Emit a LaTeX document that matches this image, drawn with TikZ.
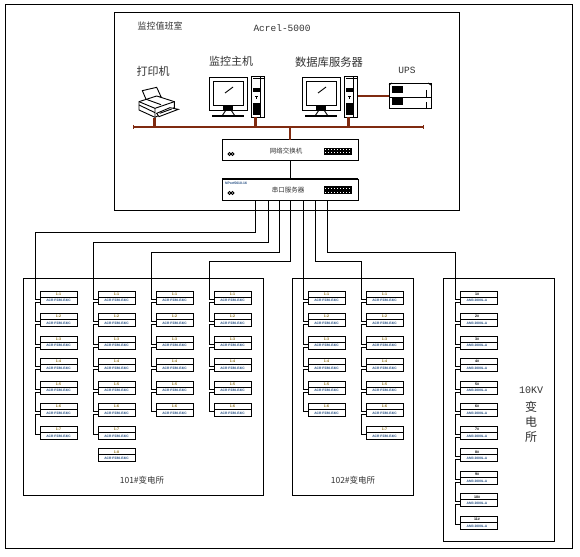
\documentclass[tikz,border=0pt]{standalone}
\usepackage{fontspec}
\setmainfont{Liberation Sans}
\newfontfamily\cjk{Noto Sans CJK SC}
\newfontfamily\monof{Liberation Mono}
\definecolor{brownline}{HTML}{7F2A10}
\definecolor{softink}{HTML}{333333}
\definecolor{tinyink}{HTML}{1F4A80}
\definecolor{tinytop}{HTML}{8A6A10}
\tikzset{
  frame/.style={draw=black,line width=1pt},
  modbox/.style={draw=black,line width=1pt,fill=white,minimum width=37pt,minimum height=13pt,inner sep=0pt,outer sep=0pt,anchor=north west},
  devbox/.style={draw=black,fill=white,minimum width=136pt,minimum height=21pt,inner sep=0pt,outer sep=0pt,anchor=north west},
  wire/.style={draw=black,line width=1pt},
  redwire/.style={draw=brownline,line width=1.6pt},
  zh/.style={font=\cjk\fontsize{#1}{#1}\selectfont,text=softink,inner sep=0pt},
  tiny/.style={font=\bfseries\fontsize{3.3}{3.3}\selectfont,text=tinyink,inner sep=0pt},
  tinyhead/.style={font=\bfseries\fontsize{3.6}{3.6}\selectfont,text=tinytop,inner sep=0pt},
  devline/.style={draw=black,line width=0.9pt},
}
\newcommand{\pcunit}[2]{%
 \begin{scope}[shift={(#1,0)}]
  \node[draw=black,line width=1pt,minimum width=38pt,minimum height=33pt,inner sep=0pt,anchor=north west] (mon#2) at (209,77) {};
  \node[draw=black,line width=1.2pt,minimum width=30pt,minimum height=24pt,inner sep=0pt,anchor=north west] (scr#2) at (213,81) {};
  \fill (223,105) rectangle (233,110);
  \draw[devline] (226,110) -- (222,116) (231,110) -- (235,116);
  \draw[line width=1.6pt] (212,116) -- (244,116);
  \draw[line width=0.9pt] (225,93) -- (233,87);
  \node[draw=black,line width=1pt,minimum width=13pt,minimum height=41pt,inner sep=0pt,anchor=north west] (tow#2) at (251,76) {};
  \draw[line width=1pt] (253,79) -- (264,79) (260,76) -- (260,117);
  \fill (252.5,88) rectangle (260,92);
  \fill (252.5,103) rectangle (260,115);
  \draw[line width=0.8pt] (255,96) -- (258,96) (256.5,96) -- (256.5,99);
  \coordinate (drop#2) at (255.5,117);
 \end{scope}}
\begin{document}
\begin{tikzpicture}[x=1pt,y=-1pt]
\useasboundingbox (0,0) rectangle (580,556);
\fill[white] (0,0) rectangle (580,556);
\node[frame,minimum width=567pt,minimum height=544pt,inner sep=0pt,anchor=north west] (outer) at (5,4) {};
\node[frame,minimum width=345pt,minimum height=198pt,inner sep=0pt,anchor=north west] (room) at (114,12) {};
\node[frame,minimum width=240pt,minimum height=217pt,inner sep=0pt,anchor=north west] (s101) at (22.5,278) {};
\node[frame,minimum width=121pt,minimum height=217pt,inner sep=0pt,anchor=north west] (s102) at (292,278) {};
\node[frame,minimum width=111pt,minimum height=263pt,inner sep=0pt,anchor=north west] (s10kv) at (443,278) {};
% heading texts
\node[zh=9] (troom) at (160,26) {监控值班室};
\node[font=\monof\fontsize{9.5}{9.5}\selectfont,text=softink,inner sep=0pt] (tacrel) at (282,28) {Acrel-5000};
\node[zh=11] (tprint) at (153,71) {打印机};
\node[zh=11] (thost) at (231,61) {监控主机};
\node[zh=11.3] (tdb) at (329,62) {数据库服务器};
\node[font=\monof\fontsize{9.5}{9.5}\selectfont,text=softink,inner sep=0pt] (tups) at (407,70) {UPS};
% printer
\begin{scope}[shift={(125,60)},x=0.3333pt,y=-0.3333pt,line width=0.9pt]
 \draw[fill=white] (52,92) -- (95,82) -- (108,110) -- (64,120) -- cycle;
 \draw[fill=white] (42,125) -- (95,108) -- (148,125) -- (148,143) -- (90,172) -- (42,150) -- cycle;
 \draw (42,125) -- (90,145) -- (148,125) (90,145) -- (90,172);
 \draw (64,118) -- (108,134);
 \draw (42,135) -- (90,158);
 \draw[fill=white] (95,160) -- (135,143) -- (160,148) -- (102,170) -- cycle;
 \draw (104,160) -- (140,147);
 \coordinate (dropP) at (88,174);
\end{scope}
% computers
\pcunit{0}{A}
\pcunit{93}{B}
% UPS
\node[devline,draw=black,fill=white,minimum width=42pt,minimum height=25pt,inner sep=0pt,anchor=north west] (ups) at (389,83) {};
\draw[devline] (389,85) -- (392,83) (428,83) -- (431,85);
\draw[devline] (389,97) -- (431,97);
\draw[devline] (426,90) -- (426,97) (426,102) -- (426,108);
\fill (392,86) rectangle (403,93);
\fill (392,98.5) rectangle (403,105);
% switches
\node[devbox,line width=1pt] (switch) at (222,140) {};
\node[devbox,line width=1pt] (server) at (222,179) {};
\draw[line width=1.6pt] (server.north west) -- (server.north east);
\node[zh=6.5] (tswitch) at (286,151) {网络交换机};
\node[zh=6.5] (tserver) at (288,190) {串口服务器};
\node[font=\bfseries\fontsize{3.4}{3.4}\selectfont,text=tinyink,inner sep=0pt,anchor=west] (tmodel) at (225,183) {NPort5610-16};
\foreach \yy/\hh in {148/7,186/8}{
 \fill (324,\yy) rectangle (352,\yy+\hh);
 \draw[white,line width=1pt,dash pattern=on 1.4pt off 1.6pt] (325,\yy+2) -- (351,\yy+2) (325,\yy+\hh-2) -- (351,\yy+\hh-2);
}
\draw[line width=0.8pt] (229.5,154) circle (1.5pt) (232.5,154) circle (1.5pt);
\draw[line width=0.8pt] (229.5,193) circle (1.5pt) (232.5,193) circle (1.5pt);
% network bus
\coordinate (busL) at (133,127);
\coordinate (busR) at (423,127);
\coordinate (busC) at (290,127);
\draw[redwire] (busL) -- (busR);
\draw[draw=brownline,line width=0.8pt] (133,125) -- (133,129) (423,125) -- (423,129);
\draw[redwire,line width=2.4pt] (dropP) -- (dropP |- busC);
\draw[redwire,line width=2.4pt] (dropA) -- (dropA |- busC);
\draw[redwire,line width=2.4pt] (dropB) -- (dropB |- busC);
\draw[redwire] (busC) -- (busC |- switch.north);
\draw[redwire] (towB.east |- ups.west) -- (ups.west);
\draw[wire] (switch.south) -- (server.north);
% modules
\foreach \c/\xx/\tot/\wired/\kind in {1/40/7/7/a,2/98/8/7/a,3/156/6/6/a,4/214/6/6/a,5/308/6/6/a,6/366/7/7/a,7/460/11/11/b}{
 \foreach \r in {1,...,\tot}{
  \pgfmathsetmacro{\yy}{291+22.55*(\r-1)}
  \node[modbox] (m\c-\r) at (\xx,\yy) {};
  \draw[wire] (\xx,\yy+6) -- (\xx+37,\yy+6);
  \if\kind a
   \node[tinyhead] (mt\c-\r) at (\xx+18.5,\yy+3) {1-\r};
   \node[tiny] (mb\c-\r) at (\xx+18.5,\yy+9.6) {ACR PZ80-E4/C};
  \else
   \node[tinyhead] (mt\c-\r) at (\xx+17,\yy+3) {\textcolor{black}{\r\#}};
   \node[tiny] (mb\c-\r) at (\xx+17,\yy+9.6) {AM3 2000L-A};
  \fi
  \coordinate (in\c-\r) at (\xx,\yy+8);
  \coordinate (out\c-\r) at (\xx,\yy+11);
 }
 \pgfmathtruncatemacro{\lastw}{\wired-1}
 \foreach \r in {1,...,\lastw}{
  \pgfmathtruncatemacro{\nx}{\r+1}
  \draw[wire] (out\c-\r) -- ++(-5,0) |- (in\c-\nx);
 }
}
% ports and trunks
\foreach \c/\px/\ty/\bx in {1/255.5/232/35,2/268/242/93,3/279/252/151,4/290.5/261/209,6/315/261/361,7/327/252/455}{
 \coordinate (port\c) at (\px,200);
 \coordinate (turn\c) at (\bx,\ty);
 \draw[wire] (port\c) |- (turn\c) |- (in\c-1);
}
\coordinate (port5) at (303,200);
\coordinate (turn5) at (303,299);
\draw[wire] (port5) -- (turn5) -- (in5-1);
% station names
\node[zh=8.5] (t101) at (142,480) {101\#变电所};
\node[zh=8.5] (t102) at (353,480) {102\#变电所};
\node[font=\monof\fontsize{10}{10}\selectfont,text=softink,inner sep=0pt] (t10kv) at (531,390) {10KV};
\node[zh=12] (tb) at (531,407) {变};
\node[zh=12] (td) at (531,422) {电};
\node[zh=12] (ts) at (531,437) {所};
\end{tikzpicture}
\end{document}
